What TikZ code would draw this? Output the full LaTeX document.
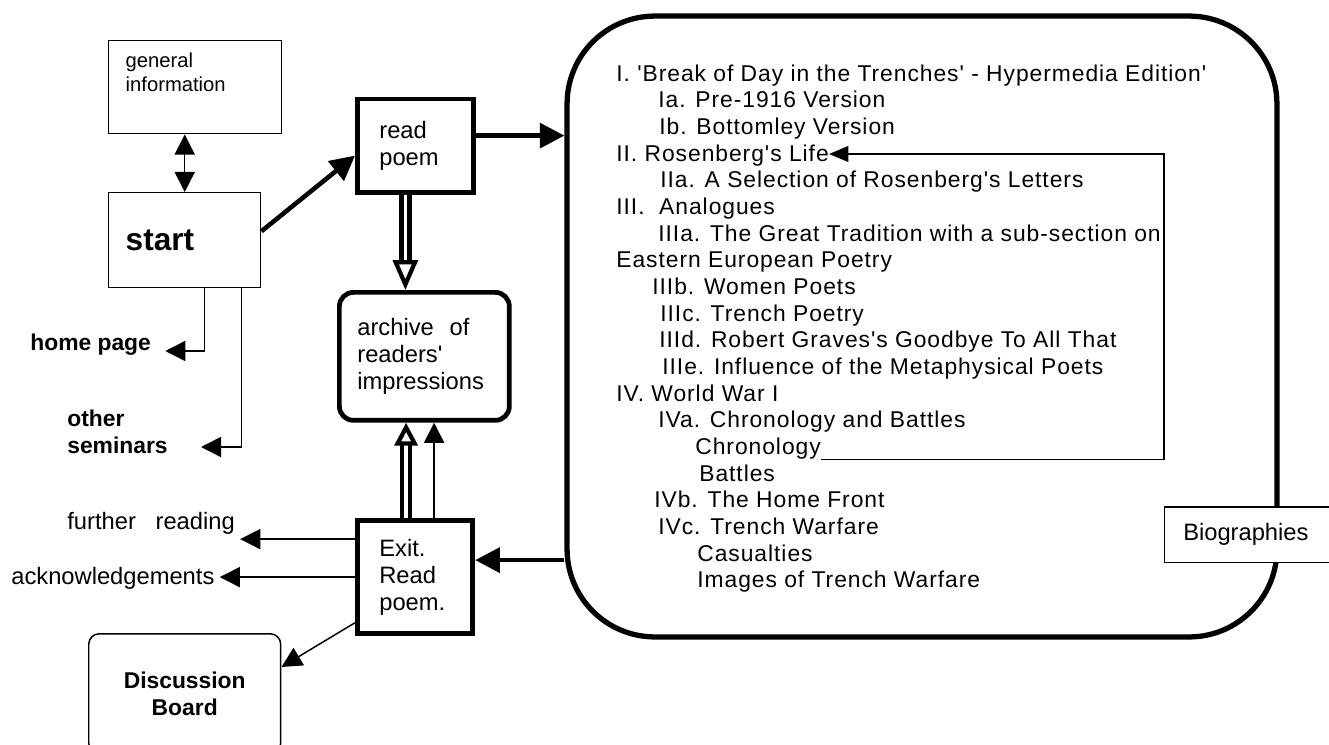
\documentclass[tikz,border=0pt]{standalone}
\usepackage{fontspec}
\setmainfont{Liberation Sans}[Ligatures=TeXOff]
\newfontfamily\listfont{Liberation Sans}[Ligatures=TeXOff, LetterSpace=4.2]
\usetikzlibrary{arrows.meta}

\begin{document}
\begin{tikzpicture}[x=0.02cm, y=-0.02cm,
    thinbox/.style={draw, line width=0.85pt, anchor=north west},
    thickbox/.style={draw, line width=2.7pt, anchor=north west, align=left, inner ysep=0pt},
    txt/.style={font=\fontsize{13.5}{15.3}\selectfont},
    bold/.style={font=\fontsize{13}{15.4}\selectfont\bfseries},
    entry/.style={anchor=base west, inner sep=0pt, font=\fontsize{13}{15}\listfont},
    smalltip/.tip={Triangle[length=11.5pt, width=11.5pt]},
    bigtip/.tip={Triangle[length=14pt, width=14pt]},
    thinarrow/.style={line width=0.85pt, -smalltip},
    thickarrow/.style={line width=2.6pt, -bigtip},
    hollowarrow/.style={line width=2.6pt, double=white, double distance=1.9pt}]
  \clip (0,0) rectangle (1329,744);

  % contents of the edition
  \node[draw, line width=3pt, rounded corners=50pt, minimum width=14.2cm, minimum height=12.42cm] (toc) at (922,326.5) {};
  \node[thinbox, fill=white, txt, align=left, minimum height=1.12cm, text width=3cm, inner xsep=0.38cm, inner ysep=0pt] (bio) at (1163.5,506) {Biographies};

  \node[entry] (part1)  at (616,81)    {I. 'Break of Day in the Trenches' - Hypermedia Edition'};
  \node[entry] (part1a) at (658,107.7) {Ia. Pre-1916 Version};
  \node[entry] (part1b) at (659,134.3) {Ib. Bottomley Version};
  \node[entry] (life)   at (616,161)   {II. Rosenberg's Life};
  \node[entry] (part2a) at (660,187.7) {IIa. A Selection of Rosenberg's Letters};
  \node[entry] (part3)  at (616,214.3) {III.~ Analogues};
  \node[entry] (part3a) at (658,241)   {IIIa. The Great Tradition with a sub-section on};
  \node[entry] (part3x) at (616,267.7) {Eastern European Poetry};
  \node[entry] (part3b) at (652,294.3) {IIIb. Women Poets};
  \node[entry] (part3c) at (660,321)   {IIIc. Trench Poetry};
  \node[entry] (part3d) at (659,347.7) {IIId. Robert Graves's Goodbye To All That};
  \node[entry] (part3e) at (662,374.3) {IIIe. Influence of the Metaphysical Poets};
  \node[entry] (part4)  at (616,401)   {IV. World War I};
  \node[entry] (part4a) at (658,427.7) {IVa. Chronology and Battles};
  \node[entry] (chron)  at (695,454.3) {Chronology};
  \node[entry] (battle) at (699,481)   {Battles};
  \node[entry] (part4b) at (654,507.7) {IVb. The Home Front};
  \node[entry] (part4c) at (658,534.3) {IVc. Trench Warfare};
  \node[entry] (casual) at (697,561)   {Casualties};
  \node[entry] (images) at (697,587.7) {Images of Trench Warfare};

  \coordinate (turn) at (1164,154);
  \draw[line width=0.85pt, -{Triangle[length=11pt, width=9pt]}] (chron.south east) -| (turn) -- (turn -| life.east);

  % left side
  \node[thinbox, font=\fontsize{11.5}{13.7}\selectfont, inner xsep=0.34cm, inner ysep=0.24cm] (info) at (108,40) {\parbox[t][1.38cm][t]{2.78cm}{general\\information}};
  \node[thinbox, font=\fontsize{18}{20}\selectfont\bfseries, align=left, minimum height=1.9cm, text width=2.36cm, inner xsep=0.34cm, inner ysep=0pt] (start) at (108,192) {start};
  \node[thickbox, txt, minimum height=1.87cm, text width=1.44cm, inner xsep=0.44cm] (read) at (355,96.5) {read\\poem};
  \node[thickbox, txt, rounded corners=8pt, minimum height=2.56cm, text width=2.68cm, inner xsep=0.36cm] (archive) at (337,290) {archive~ of\\readers'\\impressions};
  \node[thickbox, txt, minimum height=2.27cm, text width=1.43cm, inner xsep=0.44cm] (exit) at (355,518) {Exit.\\Read\\poem.};
  \node[thinbox, bold, align=center, rounded corners=6pt, minimum width=3.84cm, minimum height=2.4cm] (board) at (88,633) {Discussion\\Board};

  \node[bold, anchor=west, inner sep=0.1cm] (home) at (25,345) {home page};
  \node[bold, anchor=west, align=left, inner sep=0.1cm] (other) at (62,431.5) {other\\seminars};
  \node[txt, anchor=west, inner sep=0.1cm] (further) at (62,523) {further~~~reading};
  \node[txt, anchor=west, inner sep=0.1cm] (ack) at (6,578) {acknowledgements};

  % connectors
  \draw[thinarrow, smalltip-smalltip] (start.north) -- (start.north |- info.south);
  \draw[thickarrow] ([yshift=0.18cm]start.east) -- ([yshift=-0.2cm]read.west);
  \draw[thickarrow] ([yshift=0.2cm]read.east) -- ([yshift=0.2cm]read.east -| toc.west);
  \draw[hollowarrow, -{Triangle[open, length=17pt, width=14pt, line width=2.4pt]}] ([xshift=-0.2cm]read.south) -- ([xshift=-0.2cm]read.south |- archive.north);
  \draw[hollowarrow, -{Triangle[open, length=13pt, width=13pt, line width=2.4pt]}] ([xshift=-0.18cm]exit.north) -- ([xshift=-0.18cm]exit.north |- archive.south);
  \draw[thinarrow] ([xshift=0.38cm]exit.north) -- ([xshift=0.38cm]exit.north |- archive.south);
  \draw[thickarrow] ([yshift=0.34cm]exit.east -| toc.west) -- ([yshift=0.34cm]exit.east);
  \draw[thinarrow] ([yshift=0.76cm]exit.west) -- ([yshift=0.76cm]exit.west -| further.east);
  \draw[thinarrow] (exit.west) -- (exit.west -| ack.east);
  \draw[thinarrow] ([yshift=0.27cm]exit.south west) -- ([yshift=-0.68cm]board.north east);
  \draw[thinarrow] ([xshift=0.4cm]start.south) |- ([xshift=0.18cm, yshift=-0.12cm]home.east);
  \draw[thinarrow] ([xshift=1.14cm]start.south) |- ([xshift=0.56cm, yshift=-0.31cm]other.east);
\end{tikzpicture}
\end{document}
